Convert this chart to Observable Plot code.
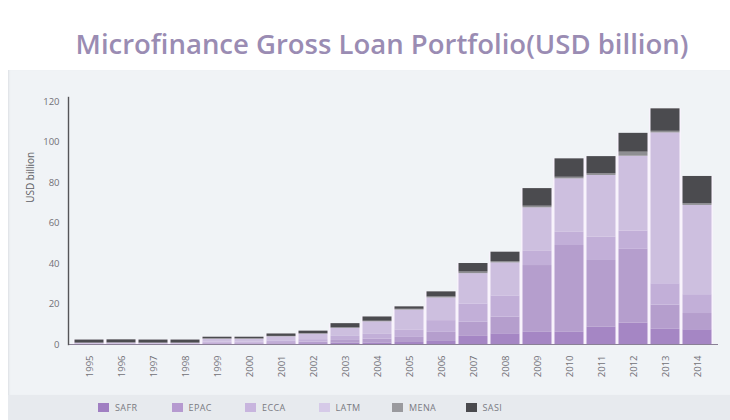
<!DOCTYPE html>
<html>
<head>
<meta charset="utf-8">
<script src="https://cdn.jsdelivr.net/npm/d3@7"></script>
<script src="https://cdn.jsdelivr.net/npm/@observablehq/plot@0.6"></script>
<style>
  html, body { margin: 0; padding: 0; background: #ffffff; }
  body { width: 730px; height: 420px; position: relative; overflow: hidden; font-family: "Open Sans", "DejaVu Sans", sans-serif; }
  #title { position: absolute; left: 0; top: 27px; width: 764px; text-align: center; font-size: 27.5px; font-weight: 600; color: #9a8cb3; letter-spacing: 0px; line-height: 34px; }
  #panel { position: absolute; left: 8px; top: 70px; width: 722px; height: 325px; background: #f0f3f6; box-shadow: inset 2px 0 2px -1px #dde0e4; }
  #legend { position: absolute; left: 8px; top: 395px; width: 722px; height: 25px; background: #e7eaee; }
  .item { position: absolute; top: 0; height: 25px; display: flex; align-items: center; font-size: 9px; color: #7a7a82; letter-spacing: 0.4px; }
  .sw { width: 11px; height: 9px; margin-right: 6px; }
</style>
</head>
<body>
<div id="title">Microfinance Gross Loan Portfolio(USD billion)</div>
<div id="panel"></div>
<div id="legend"></div>
<script>
// ---- data (USD billion) ----
const years = ["1995","1996","1997","1998","1999","2000","2001","2002","2003","2004","2005","2006","2007","2008","2009","2010","2011","2012","2013","2014"];
const seriesNames = ["SAFR","EPAC","ECCA","LATM","MENA","SASI"];
const seriesColors = ["#a586c4","#b59ecd","#c2afd8","#cdbfdf","#8e8e92","#4b4b4f"];
const legendColors = ["#a07fc2","#b69ad0","#c8b5de","#d6cae8","#9a9a9e","#4a4a4e"];
const safr = [0.1,0.1,0.1,0.1,0.2,0.2,0.3,0.4,0.6,0.8,1.0,1.5,4.0,5.3,6.0,6.0,8.5,10.5,7.5,7.3];
const epac = [0.1,0.1,0.1,0.1,0.4,0.4,0.6,0.8,1.4,1.8,2.5,4.5,7.0,8.2,33.0,42.9,33.0,36.5,12.0,8.0];
const ecca = [0.1,0.1,0.1,0.1,0.6,0.6,0.9,1.2,2.0,2.4,3.5,5.8,9.0,10.5,7.0,6.5,11.5,9.0,10.5,9.3];
const latm = [0.3,0.4,0.3,0.3,1.4,1.4,2.0,2.7,4.0,6.2,10.0,11.2,15.0,16.3,21.5,26.4,30.5,37.0,74.5,44.1];
const mena = [0.1,0.1,0.1,0.1,0.2,0.2,0.2,0.2,0.2,0.3,0.4,0.5,0.8,0.7,0.8,0.8,0.8,2.0,0.8,0.8];
const sasi = [1.5,1.5,1.5,1.5,0.8,0.8,1.2,1.3,2.1,2.1,1.2,2.5,4.2,4.6,8.7,9.1,8.5,9.3,11.1,13.5];
const yTicks = [0,20,40,60,80,100,120];
const yAxisLabel = "USD billion";

// ---- tables built from the arrays ----
const seriesValues = [safr, epac, ecca, latm, mena, sasi];
const rows = [];
seriesNames.forEach((s, si) => years.forEach((y, i) => rows.push({year: y, series: s, value: seriesValues[si][i]})));
const totals = years.map((y, i) => ({year: y, total: d3.sum(seriesValues, v => v[i])}));

const chart = Plot.plot({
  width: 722,
  height: 325,
  marginLeft: 60,
  marginRight: 12,
  marginTop: 27,
  marginBottom: 51,
  style: {background: "transparent", fontFamily: "'Open Sans', sans-serif", fontSize: "9.5px", color: "#707076", overflow: "visible"},
  x: {domain: years, paddingInner: 0, paddingOuter: 0.06, label: null, tickRotate: -90, tickSize: 0, tickPadding: 11},
  y: {domain: [0, 122], ticks: yTicks, label: null, tickSize: 0, tickPadding: 9},
  color: {domain: seriesNames, range: seriesColors},
  marks: [
    Plot.barY(totals, {x: "year", y: "total", fill: "#f8f3fc"}),
    Plot.barY(rows, {x: "year", y: "value", fill: "series", order: seriesNames, insetLeft: 1.5, insetRight: 1.5}),
    Plot.ruleY([0], {stroke: "#8a8096", strokeWidth: 1.2}),
    Plot.frame({anchor: "left", stroke: "#555558", strokeWidth: 1.4}),
    Plot.text([yAxisLabel], {frameAnchor: "left", y: () => 70, rotate: -90, dx: -38, fontSize: 10, fill: "#5e5e64"})
  ]
});
chart.style.position = "absolute";
chart.style.left = "0px";
chart.style.top = "0px";
document.getElementById("panel").appendChild(chart);

// ---- legend ----
const legend = document.getElementById("legend");
seriesNames.forEach((s, i) => {
  const item = document.createElement("div");
  item.className = "item";
  item.style.left = (90 + i * 73.5) + "px";
  const sw = document.createElement("span");
  sw.className = "sw";
  sw.style.background = legendColors[i];
  const t = document.createElement("span");
  t.textContent = s;
  item.appendChild(sw);
  item.appendChild(t);
  legend.appendChild(item);
});
</script>
</body>
</html>
